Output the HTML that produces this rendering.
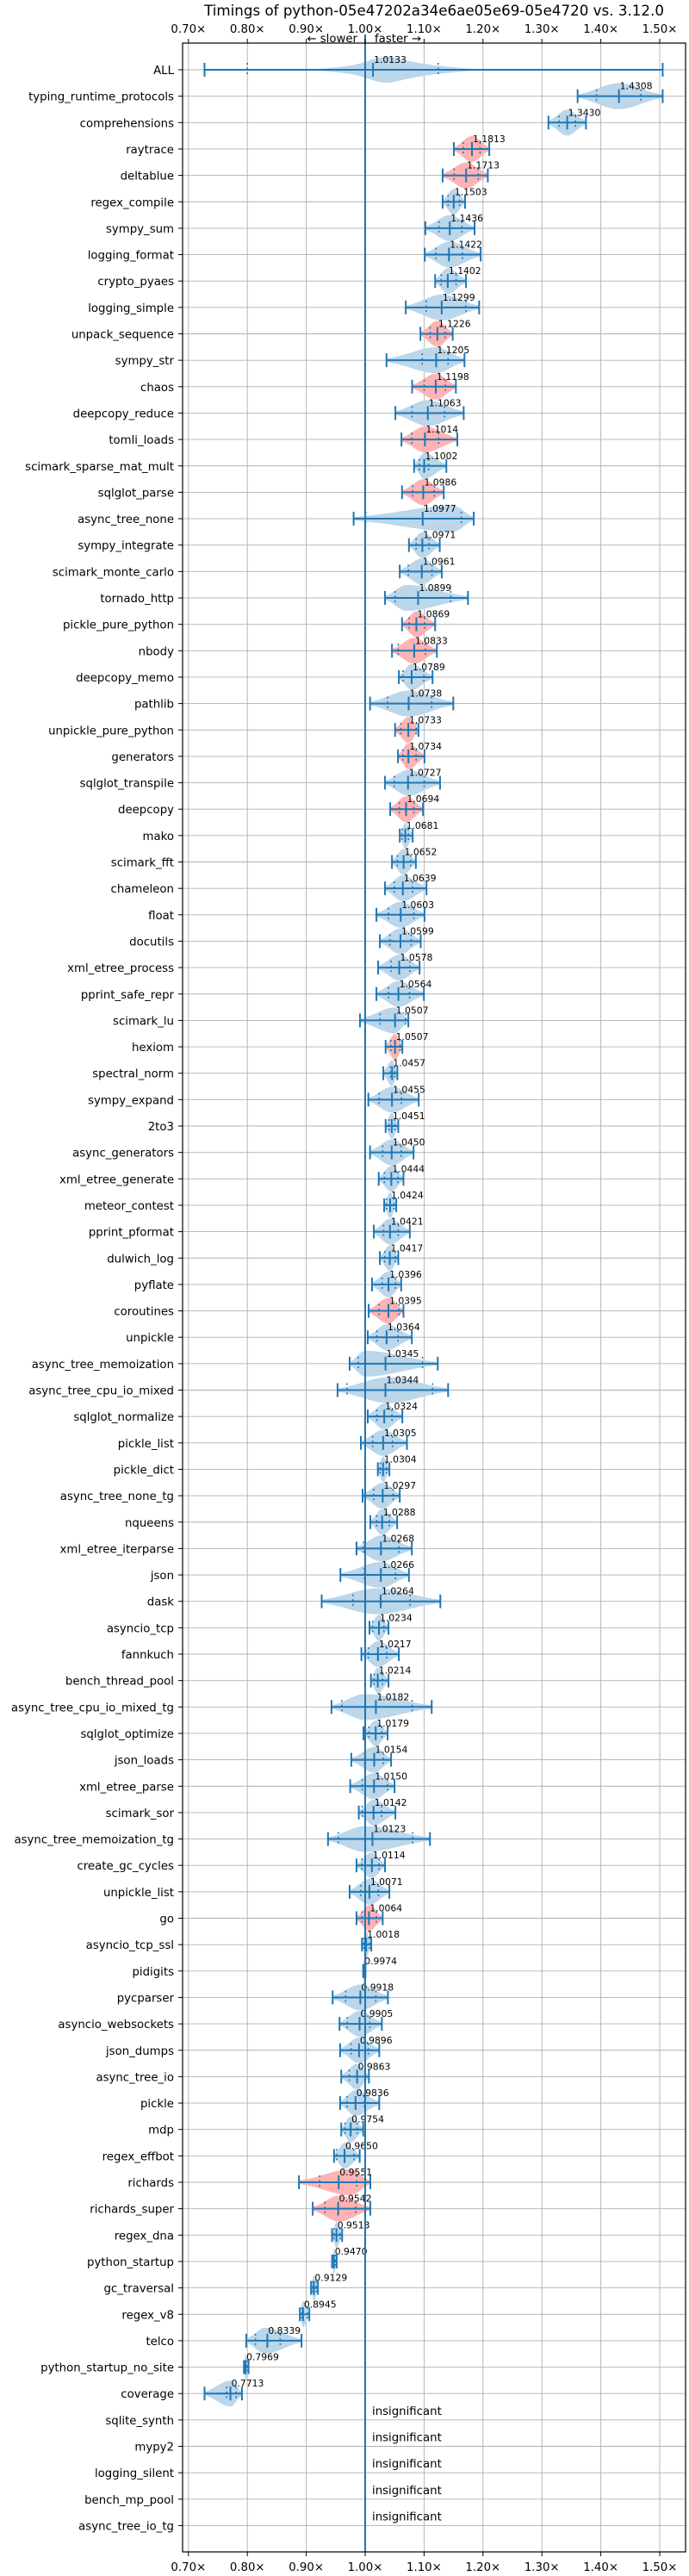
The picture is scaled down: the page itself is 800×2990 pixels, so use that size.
<!DOCTYPE html>
<html><head><meta charset="utf-8">
<style>
html,body{margin:0;padding:0;background:#fff;}
svg{display:block;font-family:"DejaVu Sans","Liberation Sans",sans-serif;}
</style></head>
<body>
<svg id="chart" width="800" height="2990" viewBox="0 0 800 2990" xmlns="http://www.w3.org/2000/svg"></svg>
<script>
const names=["typing_runtime_protocols","comprehensions","raytrace","deltablue","regex_compile","sympy_sum","logging_format","crypto_pyaes","logging_simple","unpack_sequence","sympy_str","chaos","deepcopy_reduce","tomli_loads","scimark_sparse_mat_mult","sqlglot_parse","async_tree_none","sympy_integrate","scimark_monte_carlo","tornado_http","pickle_pure_python","nbody","deepcopy_memo","pathlib","unpickle_pure_python","generators","sqlglot_transpile","deepcopy","mako","scimark_fft","chameleon","float","docutils","xml_etree_process","pprint_safe_repr","scimark_lu","hexiom","spectral_norm","sympy_expand","2to3","async_generators","xml_etree_generate","meteor_contest","pprint_pformat","dulwich_log","pyflate","coroutines","unpickle","async_tree_memoization","async_tree_cpu_io_mixed","sqlglot_normalize","pickle_list","pickle_dict","async_tree_none_tg","nqueens","xml_etree_iterparse","json","dask","asyncio_tcp","fannkuch","bench_thread_pool","async_tree_cpu_io_mixed_tg","sqlglot_optimize","json_loads","xml_etree_parse","scimark_sor","async_tree_memoization_tg","create_gc_cycles","unpickle_list","go","asyncio_tcp_ssl","pidigits","pycparser","asyncio_websockets","json_dumps","async_tree_io","pickle","mdp","regex_effbot","richards","richards_super","regex_dna","python_startup","gc_traversal","regex_v8","telco","python_startup_no_site","coverage"];
const medians=[1.4308,1.3430,1.1813,1.1713,1.1503,1.1436,1.1422,1.1402,1.1299,1.1226,1.1205,1.1198,1.1063,1.1014,1.1002,1.0986,1.0977,1.0971,1.0961,1.0899,1.0869,1.0833,1.0789,1.0738,1.0733,1.0734,1.0727,1.0694,1.0681,1.0652,1.0639,1.0603,1.0599,1.0578,1.0564,1.0507,1.0507,1.0457,1.0455,1.0451,1.0450,1.0444,1.0424,1.0421,1.0417,1.0396,1.0395,1.0364,1.0345,1.0344,1.0324,1.0305,1.0304,1.0297,1.0288,1.0268,1.0266,1.0264,1.0234,1.0217,1.0214,1.0182,1.0179,1.0154,1.0150,1.0142,1.0123,1.0114,1.0071,1.0064,1.0018,0.9974,0.9918,0.9905,0.9896,0.9863,0.9836,0.9754,0.9650,0.9551,0.9542,0.9513,0.9470,0.9129,0.8945,0.8339,0.7969,0.7713];
const mins=[1.3606,1.3111,1.1505,1.1315,1.1315,1.1022,1.1012,1.1188,1.0689,1.0938,1.0362,1.0797,1.0513,1.0616,1.0831,1.0626,0.9804,1.0743,1.0587,1.0337,1.0626,1.0455,1.0572,1.0083,1.0508,1.0557,1.0337,1.0425,1.0587,1.0455,1.0337,1.0191,1.0249,1.0220,1.0191,0.9912,1.0347,1.0308,1.0054,1.0347,1.0083,1.0230,1.0323,1.0147,1.0249,1.0117,1.0059,1.0044,0.9736,0.9531,1.0044,0.9927,1.0215,0.9956,1.0088,0.9853,0.9580,0.9262,1.0073,0.9936,1.0098,0.9428,0.9971,0.9765,0.9746,0.9892,0.9369,0.9853,0.9736,0.9853,0.9946,0.9966,0.9448,0.9565,0.9575,0.9594,0.9575,0.9594,0.9472,0.8876,0.9110,0.9438,0.9438,0.9081,0.8891,0.7981,0.7942,0.7273];
const maxs=[1.5050,1.3748,1.2107,1.2082,1.1696,1.1857,1.1960,1.1711,1.1935,1.1486,1.1686,1.1540,1.1672,1.1564,1.1378,1.1334,1.1843,1.1266,1.1300,1.1745,1.1188,1.1217,1.1144,1.1496,1.0904,1.1007,1.1271,1.0982,1.0806,1.0860,1.1041,1.1007,1.0943,1.0924,1.0997,1.0733,1.0631,1.0547,1.0909,1.0562,1.0821,1.0650,1.0528,1.0758,1.0562,1.0611,1.0650,1.0792,1.1232,1.1408,1.0631,1.0709,1.0411,1.0587,1.0543,1.0792,1.0743,1.1276,1.0396,1.0572,1.0396,1.1129,1.0381,1.0440,1.0499,1.0513,1.1100,1.0337,1.0411,1.0298,1.0103,1.0005,1.0386,1.0283,1.0239,1.0064,1.0239,0.9966,0.9907,1.0088,1.0088,0.9609,0.9516,0.9198,0.9052,0.8920,0.8020,0.7908];
const q1s=[1.3927,1.3292,1.1667,1.1510,1.1408,1.1251,1.1202,1.1290,1.1036,1.1104,1.0968,1.1002,1.0797,1.0792,1.0919,1.0806,1.0010,1.0865,1.0733,1.0508,1.0748,1.0562,1.0641,1.0381,1.0606,1.0640,1.0494,1.0582,1.0626,1.0547,1.0494,1.0396,1.0420,1.0440,1.0396,1.0254,1.0435,1.0430,1.0235,1.0406,1.0298,1.0327,1.0362,1.0313,1.0332,1.0288,1.0235,1.0200,0.9883,0.9692,1.0200,1.0127,1.0254,1.0147,1.0196,0.9971,0.9985,0.9795,1.0127,1.0054,1.0152,0.9604,1.0064,0.9990,0.9951,0.9951,0.9545,0.9946,0.9927,0.9946,0.9976,0.9970,0.9668,0.9697,0.9761,0.9731,0.9692,0.9658,0.9516,0.9228,0.9316,0.9472,0.9450,0.9110,0.8925,0.8138,0.7950,0.7649];
const q3s=[1.4683,1.3568,1.1950,1.1920,1.1603,1.1642,1.1652,1.1544,1.1711,1.1359,1.1408,1.1364,1.1349,1.1246,1.1075,1.1173,1.1632,1.1085,1.1134,1.1452,1.1007,1.1022,1.0997,1.1129,1.0865,1.0865,1.1002,1.0826,1.0733,1.0772,1.0806,1.0826,1.0782,1.0758,1.0753,1.0684,1.0591,1.0503,1.0616,1.0503,1.0611,1.0557,1.0489,1.0562,1.0513,1.0513,1.0572,1.0557,1.0973,1.1144,1.0455,1.0464,1.0362,1.0474,1.0411,1.0572,1.0513,1.0762,1.0318,1.0367,1.0293,1.0797,1.0283,1.0308,1.0381,1.0279,1.0806,1.0235,1.0225,1.0191,1.0073,1.0000,1.0181,1.0078,1.0054,0.9995,0.9985,0.9863,0.9809,0.9858,0.9839,0.9575,0.9500,0.9168,0.9018,0.8558,0.8000,0.7810];
const significant=[0,0,1,1,0,0,0,0,0,1,0,1,0,1,0,1,0,0,0,0,1,1,0,0,1,1,0,1,0,0,0,0,0,0,0,0,1,0,0,0,0,0,0,0,0,0,1,0,0,0,0,0,0,0,0,0,0,0,0,0,0,0,0,0,0,0,0,0,0,1,0,0,0,0,0,0,0,0,0,1,1,0,0,0,0,0,0,0];
const peaks={"typing_runtime_protocols":1.43,"async_tree_none":1.15,"tornado_http":1.07,"async_tree_memoization":1.0,"async_tree_cpu_io_mixed":1.04,"dask":1.02,"async_tree_cpu_io_mixed_tg":1.0,"async_tree_memoization_tg":1.0,"richards":0.975,"richards_super":0.955,"telco":0.83,"scimark_lu":1.05};
const insignificantNames=["sqlite_synth","mypy2","logging_silent","bench_mp_pool","async_tree_io_tg"];
const allMedian=1.0133, allMin=0.7273, allMax=1.505, allQ1=0.80, allQ3=1.124;
const tickValues=[0.70,0.80,0.90,1.00,1.10,1.20,1.30,1.40,1.50];
const tickLabels=["0.70×","0.80×","0.90×","1.00×","1.10×","1.20×","1.30×","1.40×","1.50×"];

const NS="http://www.w3.org/2000/svg";
const svg=document.getElementById('chart');
const L=212,R=796,T=50,B=2962,ROW0=81,STEP=30.65,HH=15;
const BLUE="#1f77b4";
function x(v){return 424+(v-1)*684;}
function y(i){return ROW0+i*STEP;}
function el(tag,attrs,parent){const e=document.createElementNS(NS,tag);for(const k in attrs)e.setAttribute(k,attrs[k]);(parent||svg).appendChild(e);return e;}

const grid=el('g',{});


tickValues.forEach((v,i)=>{
  const g=el('line',{x1:x(v),x2:x(v),y1:T,y2:B,stroke:'#b0b0b0','stroke-width':0.9},grid);
  
  
});
const allRowNames=["ALL"].concat(names,insignificantNames);
allRowNames.forEach((n,i)=>{
  const g=el('line',{x1:L,x2:R,y1:y(i),y2:y(i),stroke:'#b0b0b0','stroke-width':0.9},grid);
  
  
});

function violinPath(mn,mx,p,yc){
  const N=60;let top=[],bot=[];
  const sL=Math.max((p-mn)/2.0,1e-5),sR=Math.max((mx-p)/2.0,1e-5);
  for(let k=0;k<=N;k++){const v=mn+(mx-mn)*k/N;const s=v<p?sL:sR;const w=HH*Math.exp(-0.5*((v-p)/s)**2);
    top.push(x(v).toFixed(2)+','+(yc-w).toFixed(2));bot.unshift(x(v).toFixed(2)+','+(yc+w).toFixed(2));}
  return 'M'+top.join(' L')+' L'+bot.join(' L')+'Z';
}
function drawStats(g,mn,mx,med,q1,q3,yc){
  el('line',{x1:x(mn),x2:x(mx),y1:yc,y2:yc,stroke:BLUE,'stroke-width':2},g);
  [mn,mx,med].forEach(v=>el('line',{x1:x(v),x2:x(v),y1:yc-8,y2:yc+8,stroke:BLUE,'stroke-width':2},g));
  [q1,q3].forEach(v=>el('line',{x1:x(v),x2:x(v),y1:yc-8,y2:yc+8,stroke:BLUE,'stroke-width':1.6,'stroke-dasharray':'2,3.5'},g));
}
function label(g,med,yc,txt){
  const t=el('text',{x:x(med)+1,y:yc-8,'font-size':10.8,fill:'#000'},g);t.textContent=txt;
  
  
}

const allG=el('g',{});


(function(){
  const bw=0.02,N=200;let dens=[];
  for(let k=0;k<=N;k++){const v=allMin+(allMax-allMin)*k/N;let d=0;medians.forEach(m=>{d+=Math.exp(-0.5*((v-m)/bw)**2);});dens.push([v,d]);}
  const mxd=Math.max(...dens.map(d=>d[1]));const yc=y(0);
  let top=dens.map(d=>x(d[0]).toFixed(2)+','+(yc-HH*d[1]/mxd).toFixed(2));
  let bot=dens.slice().reverse().map(d=>x(d[0]).toFixed(2)+','+(yc+HH*d[1]/mxd).toFixed(2));
  const p=el('path',{d:'M'+top.join(' L')+' L'+bot.join(' L')+'Z',fill:'#bcd6ea'},allG);
  
  
  drawStats(allG,allMin,allMax,allMedian,allQ1,allQ3,yc);
  label(allG,allMedian,yc,allMedian.toFixed(4));
})();

names.forEach((n,i)=>{
  const yc=y(i+1);
  const g=el('g',{});
  
  
  const p=peaks[n]!==undefined?peaks[n]:medians[i];
  const path=el('path',{d:violinPath(mins[i],maxs[i],p,yc),fill:significant[i]?'#ffb3b3':'#bcd6ea'},g);
  
  
  drawStats(g,mins[i],maxs[i],medians[i],q1s[i],q3s[i],yc);
  label(g,medians[i],yc,medians[i].toFixed(4));
});
insignificantNames.forEach((n,j)=>{
  const yc=y(1+names.length+j);
  const t=el('text',{x:432,y:yc-6,'font-size':13.3,fill:'#000'});t.textContent='insignificant';
  
  
});

const base=el('line',{x1:x(1),x2:x(1),y1:40,y2:B,stroke:BLUE,'stroke-width':2});



const frame=el('rect',{x:L,y:T,width:R-L,height:B-T,fill:'none',stroke:'#000','stroke-width':1.2});



tickValues.forEach((v,i)=>{
  el('line',{x1:x(v),x2:x(v),y1:T-5,y2:T,stroke:'#000','stroke-width':1});
  el('line',{x1:x(v),x2:x(v),y1:B,y2:B+5,stroke:'#000','stroke-width':1});
  const t1=el('text',{x:x(v),y:38,'font-size':13.3,'text-anchor':'middle',fill:'#000'});t1.textContent=tickLabels[i];
  
  
  const t2=el('text',{x:x(v),y:2984,'font-size':13.3,'text-anchor':'middle',fill:'#000'});t2.textContent=tickLabels[i];
  
  
});
allRowNames.forEach((n,i)=>{
  el('line',{x1:L-5,x2:L,y1:y(i),y2:y(i),stroke:'#000','stroke-width':1});
  const t=el('text',{x:202,y:y(i)+5,'font-size':13.3,'text-anchor':'end',fill:'#000'});t.textContent=n;
  
  
});
const title=el('text',{x:504,y:18,'font-size':16.7,'text-anchor':'middle',fill:'#000'});
title.textContent='Timings of python-05e47202a34e6ae05e69-05e4720 vs. 3.12.0';


const sl=el('text',{x:415,y:49,'font-size':13.3,'text-anchor':'end',fill:'#000'});sl.textContent='← slower';


const fa=el('text',{x:435,y:49,'font-size':13.3,fill:'#000'});fa.textContent='faster →';


</script>
</body></html>
